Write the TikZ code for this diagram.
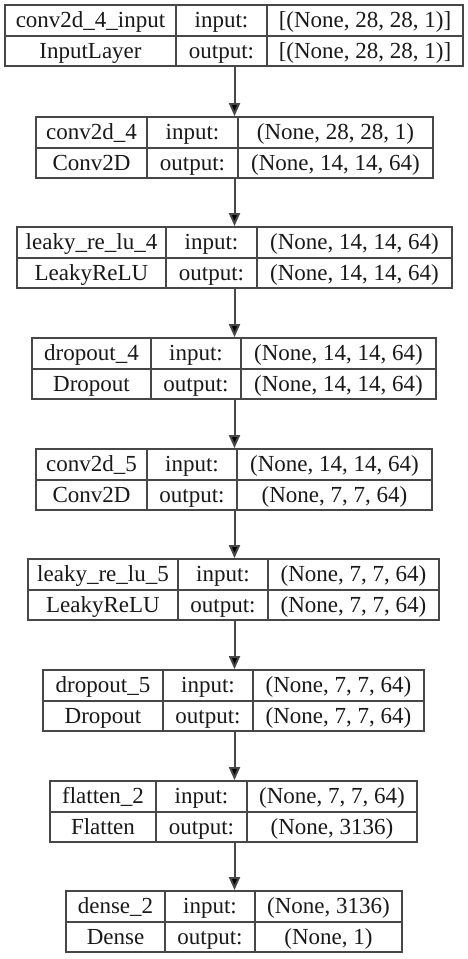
\documentclass[tikz,border=0pt]{standalone}
\usepackage{fontspec}
\setmainfont{Liberation Serif}
\usetikzlibrary{arrows.meta}
\begin{document}
\begin{tikzpicture}[x=1pt,y=-1pt,
  frame/.style={draw=black!72, line width=1.8pt},
  layerbox/.style={frame, rectangle, inner sep=0pt, fill=white},
  lbl/.style={anchor=base, inner sep=0pt, text=black!90, font=\fontsize{23}{28}\selectfont},
  link/.style={draw=black!72, line width=2pt, -{Triangle[length=13pt,width=11pt,fill=black]}}]
\useasboundingbox (0,0) rectangle (468,959);
% one box per layer: name / top / left / divider 1 / divider 2 / right / texts
\foreach \n/\t/\l/\a/\b/\r/\na/\ty/\in/\out in {
  L1/5/5/176/267/463/{conv2d\_4\_input}/{InputLayer}/{[(None, 28, 28, 1)]}/{[(None, 28, 28, 1)]},
  L2/117/36/147/238/433/{conv2d\_4}/{Conv2D}/{(None, 28, 28, 1)}/{(None, 14, 14, 64)},
  L3/227/17/166/257/452/{leaky\_re\_lu\_4}/{LeakyReLU}/{(None, 14, 14, 64)}/{(None, 14, 14, 64)},
  L4/338/32/151/241/436/{dropout\_4}/{Dropout}/{(None, 14, 14, 64)}/{(None, 14, 14, 64)},
  L5/449/36/147/237/432/{conv2d\_5}/{Conv2D}/{(None, 14, 14, 64)}/{(None, 7, 7, 64)},
  L6/559/28/178/268/439/{leaky\_re\_lu\_5}/{LeakyReLU}/{(None, 7, 7, 64)}/{(None, 7, 7, 64)},
  L7/670/43/163/253/424/{dropout\_5}/{Dropout}/{(None, 7, 7, 64)}/{(None, 7, 7, 64)},
  L8/781/50/156/247/417/{flatten\_2}/{Flatten}/{(None, 7, 7, 64)}/{(None, 3136)},
  L9/891/66/165/255/402/{dense\_2}/{Dense}/{(None, 3136)}/{(None, 1)}}
{
  \node[layerbox, minimum width={(\r-\l)*1pt}, minimum height=61pt]
    (\n) at ({(\l+\r)/2},{\t+30.5}) {};
  \draw[frame] (\l,{\t+31}) -- (\r,{\t+31});
  \draw[frame] (\a,\t) -- (\a,{\t+61});
  \draw[frame] (\b,\t) -- (\b,{\t+61});
  \node[lbl] at ({(\l+\a)/2},{\t+22}) {\na};
  \node[lbl] at ({(\l+\a)/2},{\t+53}) {\ty};
  \node[lbl] at ({(\a+\b)/2},{\t+22}) {input:};
  \node[lbl] at ({(\a+\b)/2},{\t+53}) {output:};
  \node[lbl] at ({(\b+\r)/2},{\t+22}) {\in};
  \node[lbl] at ({(\b+\r)/2},{\t+53}) {\out};
}
% all connectors run down one common vertical line
\coordinate (axis) at (234.5,0);
\foreach \u/\v in {L1/L2,L2/L3,L3/L4,L4/L5,L5/L6,L6/L7,L7/L8,L8/L9}
  \draw[link] (axis |- \u.south) -- (axis |- \v.north);
\end{tikzpicture}
\end{document}
